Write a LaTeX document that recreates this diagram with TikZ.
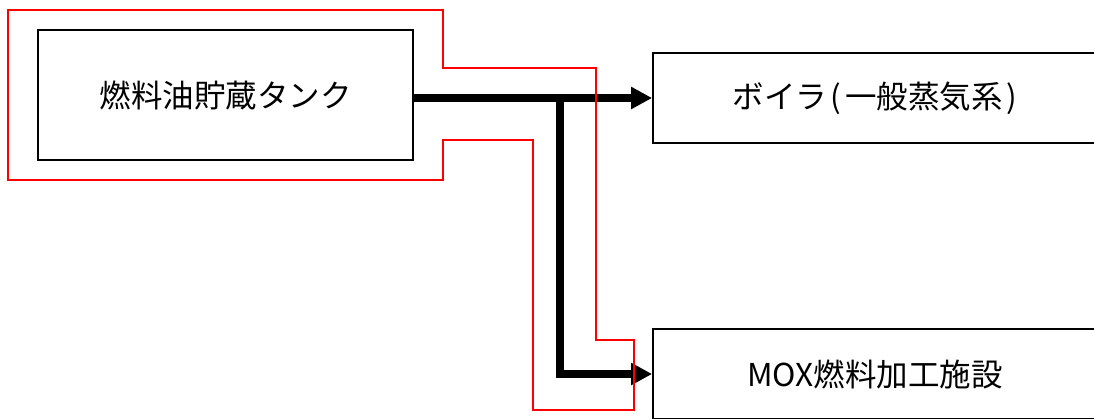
\documentclass[tikz,border=0pt]{standalone}
\usepackage{fontspec}
\setmainfont{Noto Sans CJK JP}
\usetikzlibrary{positioning}
\usetikzlibrary{calc,arrows.meta}

\begin{document}
\begin{tikzpicture}
	[   x=1pt,y=-1pt,
	    bnode/.style={draw=black,line width=1.8pt,fill=white,inner sep=0pt,
	        minimum width=#1,font=\fontsize{31.5}{36}\selectfont},
	]
	\tikzset{main arrow/.style={draw,line width=7.5pt,-{Triangle[length=21pt,width=21pt]}}}
	\useasboundingbox (0,0) rectangle (1094,418);
	\clip (0,0) rectangle (1094,418);
	
	\node[bnode=375pt,minimum height=130pt] (tank) at (225.5,95) {燃料油貯蔵タンク};
	
	\node[bnode=444pt,minimum height=90pt] (boiler) at (875,98) {ボイラ\kern3pt(\kern4pt 一般蒸気系\kern4pt)};
	
	\node[bnode=444pt,minimum height=90pt] (mox) at (875,374) {MOX燃料加工施設};
	
	\coordinate (split) at (560,98);
	
	\path[main arrow] (tank.east |- boiler.west) -- (boiler.west);
	\path[main arrow] (split) |- (mox.west);
	
	%\draw (tank) -- (mox);
	\draw[red,line width=2.7pt] (8,10) -- (443,10) -- (443,68) -- (596,68) -- (596,340)
		-- (634,340) -- (634,410) -- (533,410) -- (533,140) -- (443,140)
		-- (443,180) -- (8,180) -- cycle;
	\end{tikzpicture}
\end{document}
